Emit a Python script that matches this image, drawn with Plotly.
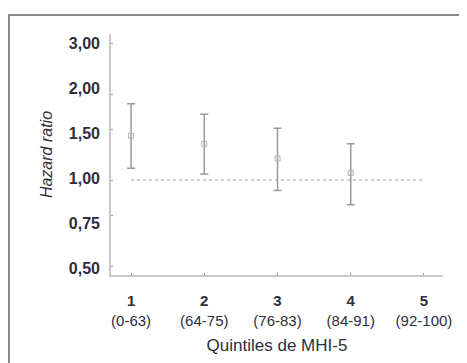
import plotly.graph_objects as go

quintiles = [1, 2, 3, 4]
hazard = [1.43, 1.34, 1.19, 1.06]
ci_upper = [1.85, 1.70, 1.52, 1.34]
ci_lower = [1.10, 1.05, 0.92, 0.82]
ref_x = [1, 5]
ref_y = [1.0, 1.0]
x_ticks = [1, 2, 3, 4, 5]
x_labels = ["<b>1</b><br>(0-63)", "<b>2</b><br>(64-75)", "<b>3</b><br>(76-83)",
            "<b>4</b><br>(84-91)", "<b>5</b><br>(92-100)"]
y_ticks = [0.5, 0.75, 1.0, 1.5, 2.0, 3.0]
y_labels = ["0,50", "0,75", "1,00", "1,50", "2,00", "3,00"]
# in the source the labels sit evenly spaced beside the log-scale ticks
y_label_slots = [0, 1, 2, 3, 4, 5]

plus = [u - h for u, h in zip(ci_upper, hazard)]
minus = [h - l for h, l in zip(hazard, ci_lower)]

fig = go.Figure()
fig.add_trace(go.Scatter(
    x=ref_x, y=ref_y, mode="lines",
    line=dict(color="#d0d0d0", width=2, dash="dot"),
    hoverinfo="skip", showlegend=False))
fig.add_trace(go.Scatter(
    x=quintiles, y=hazard, mode="markers",
    marker=dict(symbol="square-open", size=5, color="#b0b0b0", line=dict(width=1)),
    error_y=dict(type="data", symmetric=False, array=plus, arrayminus=minus,
                 color="#9a9a9a", thickness=1.5, width=4),
    showlegend=False))
# invisible carrier so the label axis is drawn
fig.add_trace(go.Scatter(
    x=[x_ticks[0]] * len(y_label_slots), y=y_label_slots, yaxis="y2", mode="markers",
    marker=dict(size=1, opacity=0), hoverinfo="skip", showlegend=False))

W, H = 467, 363
l, r, t, b = 103, 32, 26, 96
pw, ph = W - l - r, H - t - b
def px(xp):
    return (xp - l) / pw
def py(yp):
    return (H - b - yp) / ph

fig.add_shape(type="rect", xref="paper", yref="paper",
              x0=px(1), x1=px(475), y0=py(375), y1=py(7),
              line=dict(color="#8a8a8a", width=2), fillcolor="rgba(0,0,0,0)", layer="below")

txt = "#2e2e3c"
fig.update_layout(
    width=W, height=H,
    margin=dict(l=l, r=r, t=t, b=b, autoexpand=False),
    paper_bgcolor="white", plot_bgcolor="white",
    font=dict(family="Liberation Sans, Arial, sans-serif", color=txt, size=14),
    xaxis=dict(range=[0.726, 5.26], tickvals=x_ticks, ticktext=x_labels, automargin=False,
               showgrid=False, zeroline=False, showline=True, linecolor="#c8c8c8", linewidth=2,
               ticks="inside", ticklen=2, tickcolor="#999999", ticklabelstandoff=11,
               tickfont=dict(size=15, color=txt),
               title=dict(text="Quintiles de MHI-5", font=dict(size=17, color=txt), standoff=12)),
    yaxis=dict(type="log", range=[-0.3325, 0.5119], tickvals=y_ticks, automargin=False,
               showticklabels=False,
               showgrid=False, zeroline=False, showline=True, linecolor="#c8c8c8", linewidth=2,
               ticks="inside", ticklen=2, tickcolor="#999999"),
    yaxis2=dict(overlaying="y", side="left", range=[-0.156, 5.2], tickvals=y_label_slots,
                ticktext=y_labels, automargin=False, showgrid=False, zeroline=False,
                showline=False, ticks="", ticklabelstandoff=10,
                tickfont=dict(size=16, color=txt, weight="bold"),
                title=dict(text="<i>Hazard ratio</i>", font=dict(size=16, color=txt), standoff=12)),
)

fig.write_html("out.html")
